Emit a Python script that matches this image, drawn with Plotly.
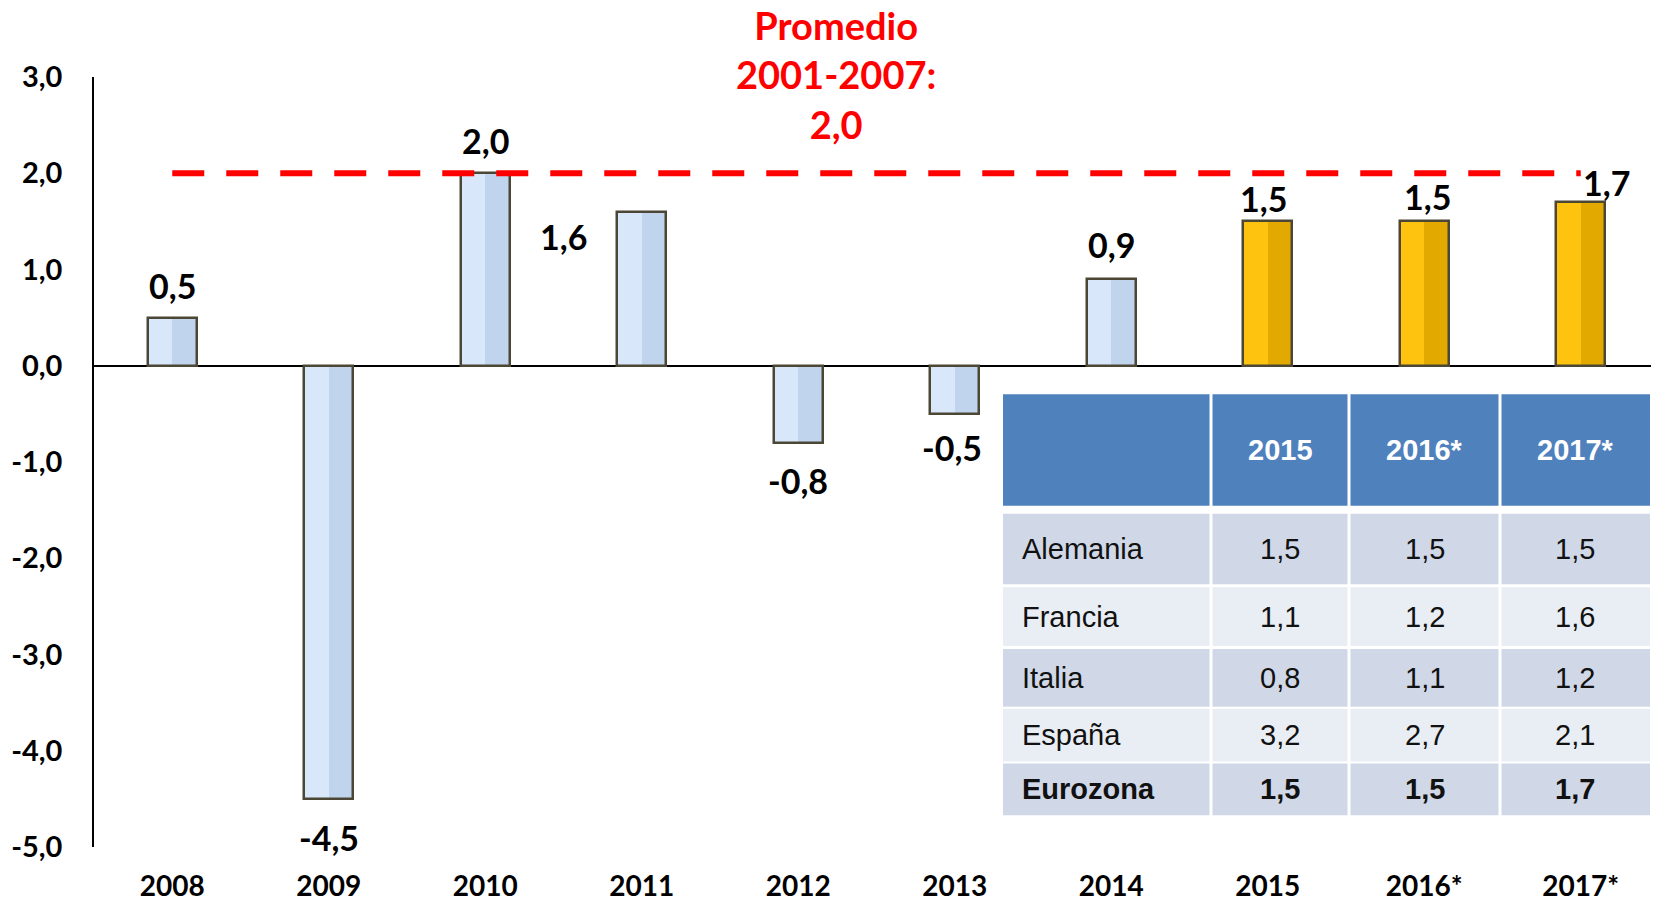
import plotly.graph_objects as go

# ---------------- data ----------------
years = ["2008", "2009", "2010", "2011", "2012", "2013", "2014", "2015", "2016*", "2017*"]
growth = [0.5, -4.5, 2.0, 1.6, -0.8, -0.5, 0.9, 1.5, 1.5, 1.7]
growth_labels = ["0,5", "-4,5", "2,0", "1,6", "-0,8", "-0,5", "0,9", "1,5", "1,5", "1,7"]
is_forecast = [False, False, False, False, False, False, False, True, True, True]

avg_value = 2.0
avg_title = "Promedio<br>2001-2007:<br>2,0"

y_tick_vals = [3, 2, 1, 0, -1, -2, -3, -4, -5]
y_tick_text = ["3,0", "2,0", "1,0", "0,0", "-1,0", "-2,0", "-3,0", "-4,0", "-5,0"]

table_header = ["", "2015", "2016*", "2017*"]
table_countries = ["Alemania", "Francia", "Italia", "España", "Eurozona"]
table_2015 = ["1,5", "1,1", "0,8", "3,2", "1,5"]
table_2016 = ["1,5", "1,2", "1,1", "2,7", "1,5"]
table_2017 = ["1,5", "1,6", "1,2", "2,1", "1,7"]

# ---------------- styling / layout constants ----------------
OFF = 8  # browser body margin
W, H = 1659 - OFF, 902 - OFF
# plot area in page pixels
L, R, T, B = 94, 1659, 77, 851
label_shift = [(0, 32), (0, -39), (0, 33), (-78, -25), (0, -38),
               (-3, -34), (0, 35), (-4, 23), (3, 25), (26, 20)]
BAR_W = 0.31
BORDER = "#4B4734"
FONT_LBL = "Lato, 'Open Sans', sans-serif"
FONT_TAB = "'Liberation Sans', Arial, sans-serif"


def px(x):
    return (x - L) / (R - L)


def py(y):
    return (B - y) / (B - T)


fig = go.Figure()

for fc, light, dark in [(False, "#D8E7F9", "#C0D4EE"), (True, "#FDC30F", "#E2A900")]:
    xs = [y for y, f in zip(years, is_forecast) if f == fc]
    vs = [v for v, f in zip(growth, is_forecast) if f == fc]
    fig.add_trace(go.Bar(x=xs, y=vs, width=BAR_W, offset=-BAR_W / 2,
                         marker=dict(color=light, line=dict(width=0)),
                         hoverinfo="skip", showlegend=False))
    fig.add_trace(go.Bar(x=xs, y=vs, width=BAR_W / 2, offset=0,
                         marker=dict(color=dark, line=dict(width=0)),
                         hoverinfo="skip", showlegend=False))
    fig.add_trace(go.Bar(x=xs, y=vs, width=BAR_W, offset=-BAR_W / 2,
                         marker=dict(color="rgba(0,0,0,0)", line=dict(width=2.5, color=BORDER)),
                         hoverinfo="skip", showlegend=False))

# average dashed line
fig.add_trace(go.Scatter(x=[years[0], years[-1]], y=[avg_value, avg_value], mode="lines",
                         line=dict(color="#FF0000", width=6, dash="32px,22px"),
                         hoverinfo="skip", showlegend=False))

annotations = []
for i, (v, lab, (dx, dy)) in enumerate(zip(growth, growth_labels, label_shift)):
    annotations.append(dict(x=i, y=v, xref="x", yref="y", text=lab, showarrow=False,
                            xshift=dx, yshift=dy,
                            font=dict(family=FONT_LBL, size=34, color="black", weight="bold")))

annotations.append(dict(x=px(836), y=py(74), xref="paper", yref="paper", text=avg_title,
                        showarrow=False, xanchor="center", yanchor="middle",
                        font=dict(family=FONT_LBL, size=38, color="#FF0000", weight="bold")))

# ---------------- table ----------------
col_edges = [1003, 1211, 1349, 1500, 1650]
row_edges = [(396, 508), (516, 587), (590, 649), (652, 710), (712, 765), (767, 819)]
gap = 1.5
shapes = []
row_fill = ["#D0D8E8", "#E9EDF4", "#D0D8E8", "#E9EDF4", "#D0D8E8"]
for ri, (top, bot) in enumerate(row_edges):
    fill = "#4F81BD" if ri == 0 else row_fill[ri - 1]
    for ci in range(4):
        x0 = col_edges[ci] + (gap if ci > 0 else 0)
        x1 = col_edges[ci + 1] - (gap if ci < 3 else 0)
        shapes.append(dict(type="rect", xref="paper", yref="paper",
                           x0=px(x0), x1=px(x1), y0=py(bot), y1=py(top),
                           fillcolor=fill, line=dict(width=0), layer="above"))

col_centers = [(col_edges[i] + col_edges[i + 1]) / 2 for i in range(4)]
hy = (row_edges[0][0] + row_edges[0][1]) / 2
for ci in range(1, 4):
    annotations.append(dict(x=px(col_centers[ci]), y=py(hy), xref="paper", yref="paper",
                            text=table_header[ci], showarrow=False, xanchor="center", yanchor="middle",
                            font=dict(family=FONT_TAB, size=29, color="white", weight="bold")))

for ri, (name, a, b, c) in enumerate(zip(table_countries, table_2015, table_2016, table_2017)):
    top, bot = row_edges[ri + 1]
    cy = (top + bot) / 2
    bold = "bold" if name == "Eurozona" else "normal"
    annotations.append(dict(x=px(1020), y=py(cy), xref="paper", yref="paper", text=name,
                            showarrow=False, xanchor="left", yanchor="middle",
                            font=dict(family=FONT_TAB, size=29, color="#111111", weight=bold)))
    for ci, val in zip([1, 2, 3], [a, b, c]):
        annotations.append(dict(x=px(col_centers[ci]), y=py(cy), xref="paper", yref="paper", text=val,
                                showarrow=False, xanchor="center", yanchor="middle",
                                font=dict(family=FONT_TAB, size=29, color="#111111", weight=bold)))

fig.update_layout(
    width=W, height=H,
    margin=dict(l=L - OFF, r=0, t=T - OFF, b=H - (B - OFF)),
    plot_bgcolor="white", paper_bgcolor="white",
    barmode="overlay", bargap=0,
    showlegend=False,
    shapes=shapes, annotations=annotations,
    xaxis=dict(type="category", categoryorder="array", categoryarray=years,
               range=[-0.5, len(years) - 0.5], autorange=False,
               showgrid=False, showline=False, zeroline=False, ticks="",
               ticklabelstandoff=20,
               tickfont=dict(family=FONT_LBL, size=28, color="black", weight="bold")),
    yaxis=dict(range=[-5, 3], tickvals=y_tick_vals, ticktext=y_tick_text,
               showgrid=False, showline=True, linecolor="black", linewidth=1.5,
               zeroline=True, zerolinecolor="black", zerolinewidth=1.5,
               ticks="", ticklabelstandoff=24,
               tickfont=dict(family=FONT_LBL, size=29, color="black", weight="bold")),
)

fig.write_html("out.html")
